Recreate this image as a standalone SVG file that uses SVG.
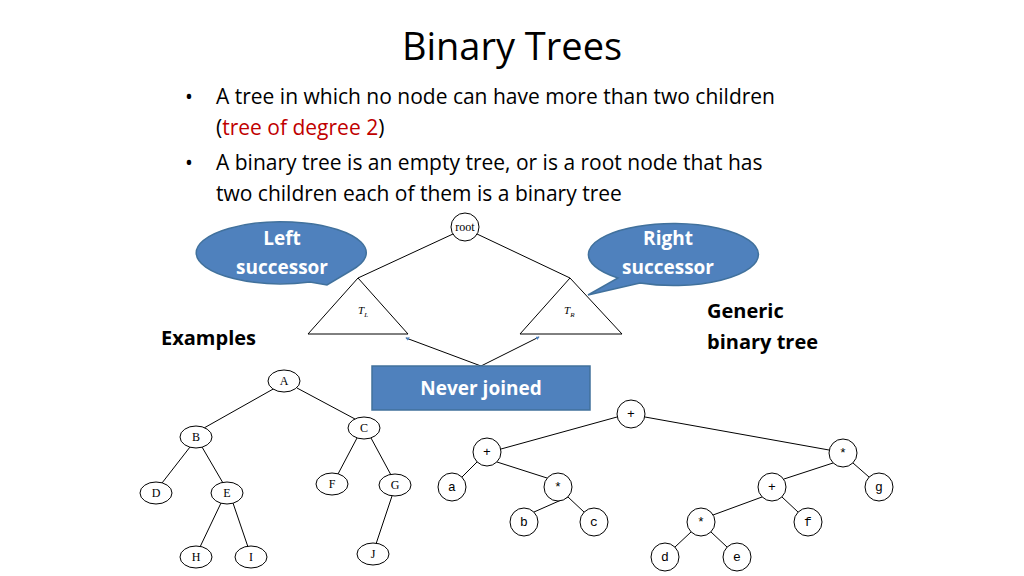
<svg xmlns="http://www.w3.org/2000/svg" width="1024" height="576" viewBox="0 0 1024 576">
<style>
.t{font-family:"Open Sans","Liberation Sans",sans-serif;fill:#000}
.b{font-family:"Open Sans","Liberation Sans",sans-serif;font-weight:bold}
.n{fill:#fff;stroke:#000;stroke-width:1}
.s{font-family:"Liberation Serif",serif;font-size:12px;text-anchor:middle}
.m{font-family:"Liberation Mono",monospace;font-size:13px;text-anchor:middle}
.bl{fill:#4f81bd;stroke:#41719c;stroke-width:1.5}
line,path.l{stroke:#000;stroke-width:1;fill:none}
</style>
<defs><marker id="ar" viewBox="0 0 10 10" refX="8" refY="5" markerWidth="4" markerHeight="4" orient="auto"><path d="M0,0L10,5L0,10z" fill="#4f81bd"/></marker></defs>
<rect width="1024" height="576" fill="#fff"/>
<text class="t" x="512" y="60" font-size="38" text-anchor="middle">Binary Trees</text>
<g class="t" font-size="21">
<text x="185" y="104">•</text><text x="216" y="104">A tree in which no node can have more than two children</text>
<text x="216" y="135">(<tspan fill="#c00000">tree of degree 2</tspan>)</text>
<text x="185" y="170">•</text><text x="216" y="170">A binary tree is an empty tree, or is a root node that has</text>
<text x="216" y="201">two children each of them is a binary tree</text>
</g>
<g id="connectors">
<line x1="453" y1="234" x2="358" y2="278"/><line x1="477" y1="234" x2="570" y2="278"/>
<line x1="275" y1="388" x2="204" y2="428"/><line x1="297" y1="388" x2="355" y2="419"/>
<line x1="190" y1="447" x2="162" y2="483"/><line x1="202" y1="447" x2="223" y2="483"/>
<line x1="357" y1="438" x2="338" y2="474"/><line x1="371" y1="438" x2="391" y2="475"/>
<line x1="221" y1="503" x2="200" y2="547"/><line x1="233" y1="503" x2="248" y2="547"/>
<line x1="392" y1="496" x2="376" y2="544"/>
<line x1="617" y1="417" x2="501" y2="449"/><line x1="645" y1="417" x2="829" y2="450"/>
<line x1="477" y1="462" x2="462" y2="477"/><line x1="497" y1="462" x2="547" y2="478"/>
<line x1="568" y1="497" x2="534" y2="512"/><line x1="568" y1="497" x2="584" y2="512"/>
<line x1="833" y1="463" x2="784" y2="479"/><line x1="853" y1="463" x2="869" y2="477"/>
<line x1="762" y1="497" x2="713" y2="515"/><line x1="782" y1="497" x2="798" y2="512"/>
<line x1="691" y1="532" x2="675" y2="547"/><line x1="711" y1="532" x2="727" y2="547"/>
<line x1="481" y1="366" x2="406" y2="338" stroke="#4f81bd" stroke-width="3" marker-end="url(#ar)"/>
<line x1="481" y1="366" x2="539" y2="337" stroke="#4f81bd" stroke-width="3" marker-end="url(#ar)"/>
</g>
<g id="root"><circle class="n" cx="465" cy="227" r="14"/><text class="s" x="465" y="231" font-size="10">root</text></g>
<g id="TL"><path class="n" d="M358,278L308,334L408,334z"/><text x="358" y="314" font-family="Liberation Serif,serif" font-style="italic" font-size="11">T<tspan font-size="7" dy="3">L</tspan></text></g>
<g id="TR"><path class="n" d="M570,278L520,334L622,334z"/><text x="564" y="314" font-family="Liberation Serif,serif" font-style="italic" font-size="11">T<tspan font-size="7" dy="3">R</tspan></text></g>
<g id="left-bubble"><path class="bl" d="M310,282 A85,31 0 1 1 352,270 L327,285 Z"/><text class="b" fill="#fff" font-size="19" text-anchor="middle"><tspan x="282" y="245">Left</tspan><tspan x="282" y="274">successor</tspan></text></g>
<g id="right-bubble"><path class="bl" d="M618,278 A85,31 0 1 1 640,283 L588,295 Z"/><text class="b" fill="#fff" font-size="19" text-anchor="middle"><tspan x="668" y="245">Right</tspan><tspan x="668" y="274">successor</tspan></text></g>
<g id="never"><rect class="bl" x="372" y="366" width="218" height="44"/><text class="b" fill="#fff" font-size="19" x="481" y="395" text-anchor="middle">Never joined</text></g>
<text class="b" x="161" y="345" font-size="20">Examples</text>
<text class="b" font-size="20"><tspan x="707" y="318">Generic</tspan><tspan x="707" y="349">binary tree</tspan></text>
<g id="tree1">
<g id="A"><ellipse class="n" cx="284" cy="381" rx="16" ry="11"/><text class="s" x="284" y="385">A</text></g>
<g id="B"><ellipse class="n" cx="196" cy="437" rx="16" ry="11"/><text class="s" x="196" y="441">B</text></g>
<g id="C"><ellipse class="n" cx="364" cy="428" rx="16" ry="11"/><text class="s" x="364" y="432">C</text></g>
<g id="D"><ellipse class="n" cx="156" cy="493" rx="16" ry="11"/><text class="s" x="156" y="497">D</text></g>
<g id="E"><ellipse class="n" cx="227" cy="493" rx="16" ry="11"/><text class="s" x="227" y="497">E</text></g>
<g id="F"><ellipse class="n" cx="332" cy="484" rx="16" ry="11"/><text class="s" x="332" y="488">F</text></g>
<g id="G"><ellipse class="n" cx="395" cy="485" rx="16" ry="11"/><text class="s" x="395" y="489">G</text></g>
<g id="H"><ellipse class="n" cx="196" cy="557" rx="16" ry="11"/><text class="s" x="196" y="561">H</text></g>
<g id="I"><ellipse class="n" cx="251" cy="557" rx="16" ry="11"/><text class="s" x="251" y="561">I</text></g>
<g id="J"><ellipse class="n" cx="373" cy="554" rx="16" ry="11"/><text class="s" x="373" y="558">J</text></g>
</g>
<g id="tree2">
<g id="p1"><circle class="n" cx="631" cy="414" r="14"/><text class="m" x="631" y="418">+</text></g>
<g id="p2"><circle class="n" cx="487" cy="452" r="14"/><text class="m" x="487" y="456">+</text></g>
<g id="s1"><circle class="n" cx="843" cy="453" r="14"/><text class="m" x="843" y="457">*</text></g>
<g id="a"><circle class="n" cx="452" cy="487" r="14"/><text class="m" x="452" y="491">a</text></g>
<g id="s2"><circle class="n" cx="558" cy="487" r="14"/><text class="m" x="558" y="491">*</text></g>
<g id="p3"><circle class="n" cx="772" cy="487" r="14"/><text class="m" x="772" y="491">+</text></g>
<g id="g"><circle class="n" cx="879" cy="487" r="14"/><text class="m" x="879" y="491">g</text></g>
<g id="b"><circle class="n" cx="524" cy="522" r="14"/><text class="m" x="524" y="526">b</text></g>
<g id="c"><circle class="n" cx="594" cy="522" r="14"/><text class="m" x="594" y="526">c</text></g>
<g id="s3"><circle class="n" cx="701" cy="522" r="14"/><text class="m" x="701" y="526">*</text></g>
<g id="f"><circle class="n" cx="808" cy="522" r="14"/><text class="m" x="808" y="526">f</text></g>
<g id="d"><circle class="n" cx="665" cy="557" r="14"/><text class="m" x="665" y="561">d</text></g>
<g id="e"><circle class="n" cx="737" cy="557" r="14"/><text class="m" x="737" y="561">e</text></g>
</g>
</svg>
